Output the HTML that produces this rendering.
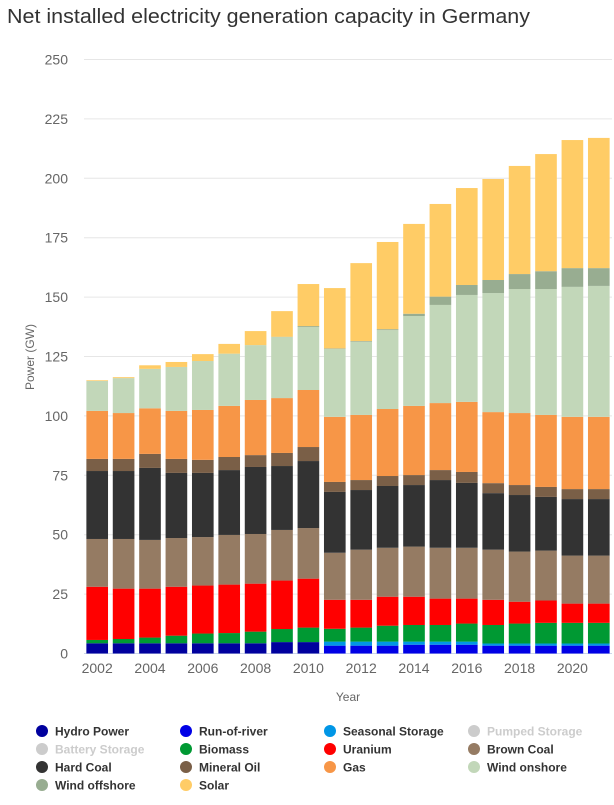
<!DOCTYPE html>
<html><head><meta charset="utf-8"><style>
body{margin:0;background:#fff;font-family:"Liberation Sans",sans-serif;}
svg text{font-family:"Liberation Sans",sans-serif;}
</style></head><body>
<svg id="c" width="614" height="800" xmlns="http://www.w3.org/2000/svg">
<text x="7" y="23" font-size="20" fill="#333" textLength="523" lengthAdjust="spacingAndGlyphs">Net installed electricity generation capacity in Germany</text>
<g id="grid"></g><g id="bars"></g><g id="axes"></g><g id="legend"></g>
</svg>
<script>
const years = [2002,2003,2004,2005,2006,2007,2008,2009,2010,2011,2012,2013,2014,2015,2016,2017,2018,2019,2020,2021];
const yTicks = [0,25,50,75,100,125,150,175,200,225,250];
const hydro = [4.3,4.3,4.3,4.3,4.3,4.3,4.3,4.8,4.8,0,0,0,0,0,0,0,0,0,0,0];
const runOfRiver = [0,0,0,0,0,0,0,0,0,3.3,3.3,3.3,3.7,3.7,3.7,3.3,3.3,3.3,3.3,3.3];
const seasonal = [0,0,0,0,0,0,0,0,0,1.7,1.7,1.7,1.3,1.3,1.3,0.9,0.9,0.9,0.9,0.9];
const pumped = [0,0,0,0,0,0,0,0,0,0,0,0,0,0,0,0,0,0,0,0];
const battery = [0,0,0,0,0,0,0,0,0,0,0,0,0,0,0,0,0,0,0,0];
const biomass = [1.4,1.8,2.4,3.2,4.1,4.3,4.9,5.5,6.1,5.4,5.9,6.7,7.0,7.0,7.6,7.8,8.4,8.7,8.7,8.7];
const uranium = [22.4,21.2,20.6,20.6,20.2,20.4,20.2,20.4,20.6,12.2,11.7,12.2,11.9,11.1,10.5,10.6,9.2,9.4,8.1,8.1];
const brownCoal = [20.1,20.9,20.5,20.5,20.4,20.9,20.9,21.3,21.3,19.8,21.1,20.6,21.1,21.4,21.4,21.1,21.1,21.0,20.2,20.2];
const hardCoal = [28.6,28.6,30.3,27.4,27.0,27.3,28.2,26.9,28.2,25.6,25.1,26.0,25.9,28.5,27.3,23.8,23.8,22.6,23.8,23.8];
const mineralOil = [5.1,5.1,5.9,5.9,5.5,5.5,5.0,5.5,5.9,4.2,4.2,4.2,4.2,4.2,4.6,4.2,4.2,4.2,4.2,4.2];
const gas = [20.2,19.3,19.2,20.2,21.0,21.5,23.2,23.1,24.0,27.4,27.4,28.2,29.1,28.2,29.5,29.9,30.3,30.3,30.4,30.4];
const windOnshore = [12.6,14.7,16.6,18.5,20.6,22.0,23.1,25.7,26.5,28.6,30.8,33.2,37.8,41.3,45.0,50.1,52.2,53.0,54.7,55.1];
const windOffshore = [0,0,0,0,0,0,0,0.1,0.4,0.2,0.3,0.4,1.0,3.5,4.2,5.5,6.3,7.5,7.9,7.5];
const solar = [0.3,0.4,1.5,2.1,2.9,4.1,5.9,10.8,17.7,25.4,32.8,36.7,37.8,39.0,40.8,42.5,45.5,49.3,53.9,54.8];

const series = [
 {n:"Hydro Power",k:"hydro",d:hydro,c:"#00009e",v:true},
 {n:"Run-of-river",k:"run-of-river",d:runOfRiver,c:"#0000e6",v:true},
 {n:"Seasonal Storage",k:"seasonal-storage",d:seasonal,c:"#0096e6",v:true},
 {n:"Pumped Storage",k:"pumped-storage",d:pumped,c:"#cccccc",v:false},
 {n:"Battery Storage",k:"battery-storage",d:battery,c:"#cccccc",v:false},
 {n:"Biomass",k:"biomass",d:biomass,c:"#009933",v:true},
 {n:"Uranium",k:"uranium",d:uranium,c:"#ff0000",v:true},
 {n:"Brown Coal",k:"brown-coal",d:brownCoal,c:"#957b63",v:true},
 {n:"Hard Coal",k:"hard-coal",d:hardCoal,c:"#333333",v:true},
 {n:"Mineral Oil",k:"mineral-oil",d:mineralOil,c:"#7a5f47",v:true},
 {n:"Gas",k:"gas",d:gas,c:"#f79647",v:true},
 {n:"Wind onshore",k:"wind-onshore",d:windOnshore,c:"#c2d7b9",v:true},
 {n:"Wind offshore",k:"wind-offshore",d:windOffshore,c:"#98ad91",v:true},
 {n:"Solar",k:"solar",d:solar,c:"#ffcc66",v:true}
];
const NS="http://www.w3.org/2000/svg";
const L=84,R=612,T=59.5,B=653.5,YMAX=250;
const y=v=>B-(v/YMAX)*(B-T);
const bw=(R-L)/years.length;
const xc=i=>L+bw*(i+0.5);
function mk(t,a,p){const e=document.createElementNS(NS,t);for(const k in a)e.setAttribute(k,a[k]);p.appendChild(e);return e;}
const grid=document.getElementById('grid'),axes=document.getElementById('axes'),bars=document.getElementById('bars'),leg=document.getElementById('legend');
yTicks.forEach(t=>{
 const g=mk('line',{x1:L,x2:R,y1:y(t),y2:y(t),stroke:t===0?'#ccd6eb':'#e6e6e6','stroke-width':1},grid);
 
 
 const tx=mk('text',{x:68,y:y(t)+5,'text-anchor':'end','font-size':14,fill:'#666'},axes);
 tx.textContent=t;
 
 
});
years.forEach((yr,i)=>{
 if(i%2===0){
  const tx=mk('text',{x:xc(i),y:673,'text-anchor':'middle','font-size':14,fill:'#666'},axes);
  tx.textContent=yr;
  
  
 }
 let acc=0;
 series.forEach(s=>{
  const v=s.d[i]; if(!s.v||v<=0){return;}
  const r=mk('rect',{x:xc(i)-bw*0.41,width:bw*0.82,y:y(acc+v),height:y(acc)-y(acc+v),fill:s.c},bars);
  
  
  acc+=v;
 });
});
let xt=mk('text',{x:348,y:701,'text-anchor':'middle','font-size':12,fill:'#666'},axes);xt.textContent='Year';


let yt=mk('text',{x:0,y:0,'text-anchor':'middle','font-size':12,fill:'#666',transform:'translate(34,357) rotate(-90)'},axes);yt.textContent='Power (GW)';


const colX=[42,186,330,474],rowY=[731,749,767,785];
series.forEach((s,j)=>{
 const cx=colX[j%4],cy=rowY[Math.floor(j/4)];
 const g=mk('g',{cursor:'pointer'},leg);
 
 
 mk('circle',{cx:cx,cy:cy,r:6,fill:s.v?s.c:'#cccccc'},g);
 const t=mk('text',{x:cx+13,y:cy+4.5,'font-size':12,'font-weight':'bold',fill:s.v?'#333':'#cccccc'},g);
 t.textContent=s.n;
});
</script>
</body></html>
